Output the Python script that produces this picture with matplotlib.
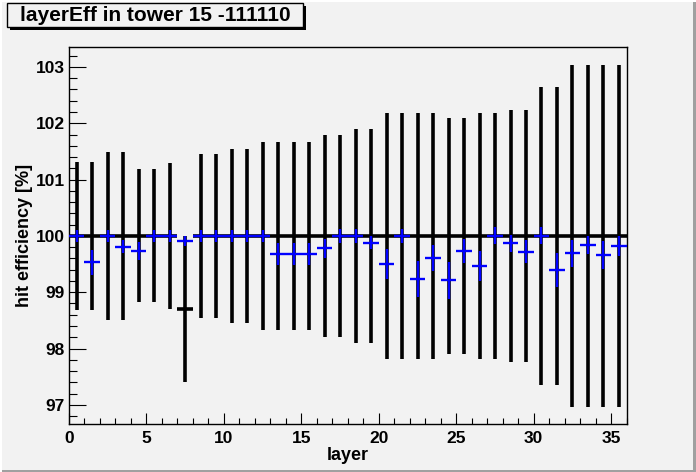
import matplotlib

matplotlib.use("Agg")
import matplotlib.pyplot as plt  # noqa: E402
from matplotlib.patches import Rectangle  # noqa: E402
from matplotlib.ticker import MultipleLocator  # noqa: E402

W, H = 696, 472
BG = "#f2f2f2"

layers = list(range(36))

# reference efficiency (black) per layer
ref_eff = [100.0] * 7 + [98.7] + [100.0] * 28
ref_err = [1.31, 1.31, 1.49, 1.49, 1.18, 1.18, 1.29, 1.30, 1.46, 1.46,
           1.55, 1.55, 1.67, 1.67, 1.67, 1.67, 1.79, 1.79, 1.90, 1.90,
           2.18, 2.18, 2.18, 2.18, 2.10, 2.10, 2.18, 2.18, 2.24, 2.24,
           2.65, 2.65, 3.03, 3.03, 3.03, 3.03]

# measured efficiency (blue) per layer
hit_eff = [100.0, 99.53, 100.0, 99.81, 99.74, 100.0, 100.0, 99.91, 100.0, 100.0,
           100.0, 100.0, 100.0, 99.68, 99.68, 99.68, 99.78, 100.0, 100.0, 99.88,
           99.50, 100.0, 99.24, 99.61, 99.21, 99.73, 99.47, 100.0, 99.87, 99.72,
           100.0, 99.40, 99.69, 99.84, 99.66, 99.82]
hit_err = [0.10, 0.22, 0.10, 0.11, 0.16, 0.10, 0.10, 0.09, 0.10, 0.10,
           0.10, 0.10, 0.10, 0.19, 0.20, 0.20, 0.17, 0.12, 0.12, 0.12,
           0.26, 0.13, 0.32, 0.23, 0.33, 0.21, 0.27, 0.15, 0.15, 0.20,
           0.15, 0.30, 0.24, 0.16, 0.25, 0.17]

TITLE = "layerEff in tower 15 -111110"

plt.rcParams["font.family"] = ["Liberation Sans", "DejaVu Sans"]
plt.rcParams["font.weight"] = "bold"

fig = plt.figure(figsize=(W / 100, H / 100), dpi=100, facecolor=BG)
ax = fig.add_axes([69 / W, 1 - 424 / H, (626.7 - 69) / W, (424 - 46.7) / H])
ax.set_facecolor(BG)

centers = [i + 0.5 for i in layers]
ax.errorbar(centers, ref_eff, xerr=0.5, yerr=ref_err, fmt="none",
            ecolor="black", elinewidth=2.6, capsize=0, zorder=2)
ax.errorbar(centers, hit_eff, xerr=0.5, yerr=hit_err, fmt="none",
            ecolor="#0000ff", elinewidth=1.7, capsize=0, zorder=3)

ax.set_xlim(0, 36)
ax.set_ylim(96.66, 103.36)
ax.xaxis.set_major_locator(MultipleLocator(5))
ax.xaxis.set_minor_locator(MultipleLocator(1))
ax.yaxis.set_major_locator(MultipleLocator(1))
ax.yaxis.set_minor_locator(MultipleLocator(0.2))
ax.tick_params(axis="both", which="both", direction="in", top=False, right=False,
               width=0.8, labelsize=12.5)
ax.tick_params(axis="y", which="major", length=12, pad=3)
ax.tick_params(axis="y", which="minor", length=6)
ax.tick_params(axis="x", which="major", length=8, pad=5)
ax.tick_params(axis="x", which="minor", length=4)
for lab in ax.get_xticklabels() + ax.get_yticklabels():
    lab.set_fontweight("bold")
for s in ax.spines.values():
    s.set_linewidth(1.0)

ax.set_xlabel("layer", fontsize=13, fontweight="bold", labelpad=1)
ax.set_ylabel("hit efficiency [%]", fontsize=13, fontweight="bold", labelpad=2)

# title box with shadow (ROOT style)
fig.patches.append(Rectangle((10 / W, 1 - 29.5 / H), 296 / W, 24 / H,
                             transform=fig.transFigure, facecolor="black",
                             edgecolor="none", zorder=1))
fig.patches.append(Rectangle((7 / W, 1 - 26.7 / H), 296 / W, 23.4 / H,
                             transform=fig.transFigure, facecolor=BG,
                             edgecolor="black", linewidth=1.0, zorder=2))
fig.text(155 / W, 1 - 15.3 / H, TITLE, ha="center", va="center",
         fontsize=15, fontweight="bold", zorder=3)

# canvas frame: light top/left, grey bottom/right
fig.patches.append(Rectangle((0, 0), 1, 2.5 / H, transform=fig.transFigure,
                             facecolor="#a0a0a0", edgecolor="none"))
fig.patches.append(Rectangle((1 - 3 / W, 0), 3 / W, 1, transform=fig.transFigure,
                             facecolor="#a0a0a0", edgecolor="none"))
fig.patches.append(Rectangle((0, 1 - 1.5 / H), 1, 1.5 / H, transform=fig.transFigure,
                             facecolor="white", edgecolor="none"))
fig.patches.append(Rectangle((0, 0), 1.5 / W, 1, transform=fig.transFigure,
                             facecolor="white", edgecolor="none"))

fig.savefig("out.png", dpi=100, facecolor=BG)
